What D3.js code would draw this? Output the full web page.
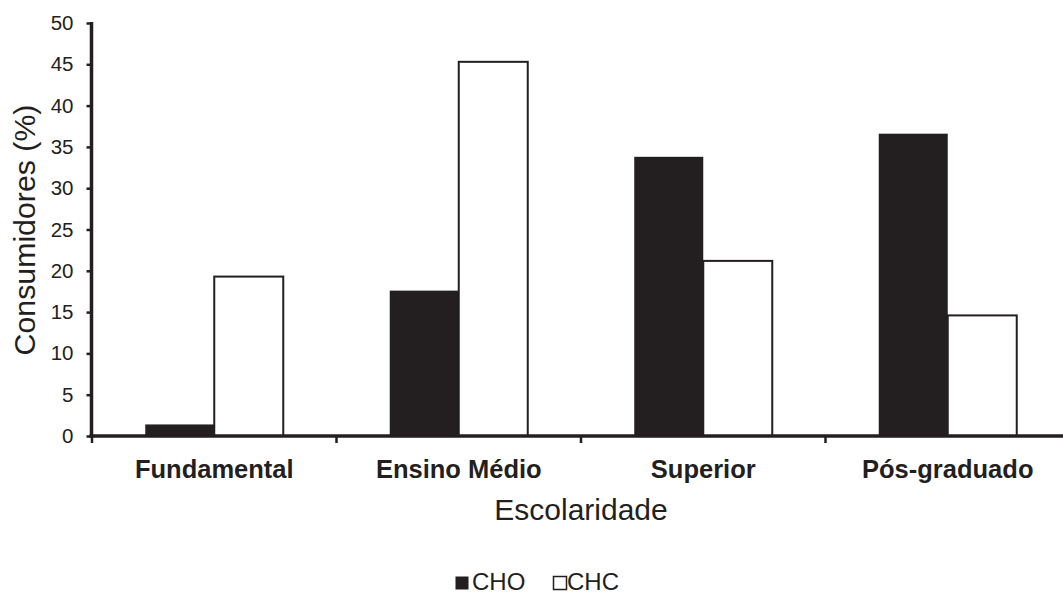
<!DOCTYPE html>
<html><head><meta charset="utf-8">
<script src="https://cdn.jsdelivr.net/npm/d3@7"></script>
<style>body{margin:0;background:#fff}svg{display:block}text{font-family:"Liberation Sans",Arial,sans-serif;fill:#231f20}</style>
</head><body>
<script>
const categories = ["Fundamental","Ensino Médio","Superior","Pós-graduado"];
const seriesNames = ["CHO","CHC"];
const cho = [1.4, 17.6, 33.8, 36.6];
const chc = [19.3, 45.3, 21.2, 14.6];
const yTicks = [0,5,10,15,20,25,30,35,40,45,50];

const W=1063,H=594, ink="#231f20";
const svg=d3.select("body").append("svg").attr("width",W).attr("height",H);
const x=d3.scaleBand().domain(categories).range([92,1070]);
const y=d3.scaleLinear().domain([0,50]).range([436,23]);
const inner=d3.scaleBand().domain(seriesNames).range([-69,69]);

const data=categories.map((c,i)=>({c,CHO:cho[i],CHC:chc[i]}));
const g=svg.append("g");
data.forEach(d=>{
  seriesNames.forEach(s=>{
    const cx=x(d.c)+x.bandwidth()/2+inner(s);
    g.append("rect").attr("x",cx).attr("y",y(d[s])).attr("width",inner.bandwidth())
     .attr("height",y(0)-y(d[s]))
     .attr("fill",s==="CHO"?ink:"#fff").attr("stroke",ink).attr("stroke-width",s==="CHO"?0:2);
  });
});

// y axis
const ya=svg.append("g").attr("transform","translate(91.5,0)")
  .call(d3.axisLeft(y).tickValues(yTicks).tickSize(5).tickPadding(13));
ya.select(".domain").attr("stroke",ink).attr("stroke-width",3.5).attr("d","M0,22V437.5");
ya.selectAll(".tick line").attr("stroke",ink).attr("stroke-width",2.5);
ya.selectAll("text").attr("font-size",20.5).attr("fill",ink).attr("font-family","Liberation Sans, Arial");

// x axis
const xa=svg.append("g").attr("transform","translate(0,436)");
xa.append("line").attr("x1",89.5).attr("x2",W).attr("y1",0).attr("y2",0).attr("stroke",ink).attr("stroke-width",3.5);
const bounds=categories.map(c=>x(c)).concat([x.range()[1]]);
xa.selectAll("line.t").data(bounds).join("line").attr("class","t")
  .attr("x1",d=>d).attr("x2",d=>d).attr("y1",0).attr("y2",7).attr("stroke",ink).attr("stroke-width",2.5);
xa.selectAll("text.c").data(categories).join("text").attr("class","c")
  .attr("x",d=>x(d)+x.bandwidth()/2).attr("y",42).attr("text-anchor","middle")
  .attr("font-size",25.5).attr("font-weight","bold").text(d=>d);

svg.append("text").attr("x",581).attr("y",520).attr("text-anchor","middle").attr("font-size",30).text("Escolaridade");
svg.append("text").attr("transform","translate(35,230) rotate(-90)").attr("text-anchor","middle").attr("font-size",30.3).text("Consumidores (%)");

// legend
const leg=svg.append("g");
const lx=[455,553];
seriesNames.forEach((s,i)=>{
  leg.append("rect").attr("x",lx[i]+0.5).attr("y",576.5).attr("width",13).attr("height",13)
   .attr("fill",i===0?ink:"#fff").attr("stroke",ink).attr("stroke-width",i===0?0:1.5);
  leg.append("text").attr("x",lx[i]+(i===0?17:14)).attr("y",590).attr("font-size",24).text(s);
});
</script>
</body></html>
